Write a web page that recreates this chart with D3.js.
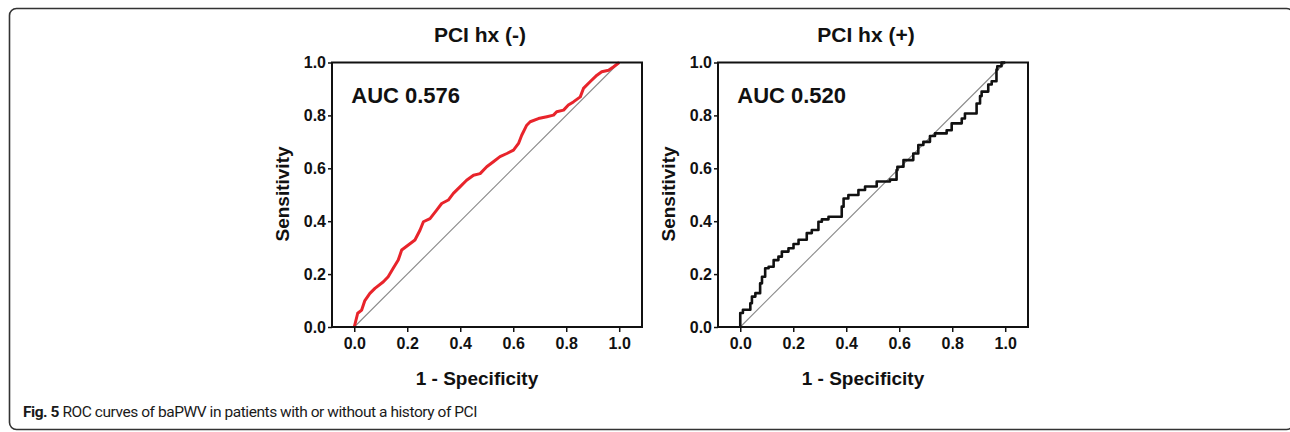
<!DOCTYPE html>
<html>
  <head>
    <meta charset="utf-8" />
    <title>ROC curves</title>
    <script src="https://d3js.org/d3.v7.min.js"></script>
    <style>
      body { margin: 0; background: #fff; }
      svg text { font-family: "Liberation Sans", Arial, sans-serif; }
    </style>
  </head>
  <body>
    <svg id="viz"></svg>

    <script>
        // ROC data: [1 - specificity, sensitivity]
        var rocNeg = [
            [0, 0], [0.013, 0.052], [0.028, 0.064], [0.04, 0.10], [0.059, 0.127],
            [0.078, 0.146], [0.11, 0.171], [0.128, 0.19], [0.147, 0.222], [0.166, 0.253],
            [0.179, 0.291], [0.204, 0.31], [0.229, 0.329], [0.248, 0.366], [0.261, 0.398],
            [0.286, 0.41], [0.311, 0.442], [0.33, 0.467], [0.355, 0.48], [0.374, 0.505],
            [0.399, 0.53], [0.424, 0.555], [0.45, 0.574], [0.475, 0.58], [0.5, 0.606],
            [0.525, 0.625], [0.55, 0.644], [0.576, 0.656], [0.601, 0.669], [0.62, 0.694],
            [0.632, 0.725], [0.651, 0.763], [0.664, 0.776], [0.695, 0.788], [0.727, 0.795],
            [0.752, 0.801], [0.764, 0.814], [0.79, 0.82], [0.808, 0.839], [0.827, 0.851],
            [0.853, 0.87], [0.865, 0.902], [0.89, 0.927], [0.916, 0.952], [0.934, 0.965],
            [0.96, 0.971], [0.979, 0.984], [1, 1]
        ];

        var rocPos = [
            [0, 0], [0, 0.02], [0.01, 0.053], [0.02, 0.065], [0.038, 0.065], [0.044, 0.09],
            [0.057, 0.115], [0.075, 0.128], [0.082, 0.165], [0.094, 0.19], [0.107, 0.222],
            [0.126, 0.228], [0.144, 0.253], [0.157, 0.266], [0.182, 0.285], [0.201, 0.298],
            [0.22, 0.314], [0.251, 0.33], [0.27, 0.355], [0.295, 0.367], [0.308, 0.398],
            [0.333, 0.407], [0.383, 0.417], [0.39, 0.455], [0.408, 0.486], [0.446, 0.499],
            [0.471, 0.518], [0.515, 0.531], [0.565, 0.55], [0.59, 0.557], [0.593, 0.593],
            [0.616, 0.606], [0.653, 0.631], [0.672, 0.656], [0.691, 0.688], [0.716, 0.7],
            [0.735, 0.722], [0.779, 0.732], [0.798, 0.744], [0.836, 0.77], [0.848, 0.788],
            [0.892, 0.807], [0.905, 0.845], [0.911, 0.873], [0.936, 0.89], [0.949, 0.917],
            [0.967, 0.929], [0.97, 0.973], [0.986, 0.986], [1, 1]
        ];

        var tickValues = [0, 0.2, 0.4, 0.6, 0.8, 1.0];
        var titles = ["PCI hx (-)", "PCI hx (+)"];
        var aucLabels = ["AUC 0.576", "AUC 0.520"];

        var width = 1290;
        var height = 432;

        var svg = d3.select("#viz")
            .attr("width", width)
            .attr("height", height);

        // rounded frame around the figure (right side runs off the page)
        svg.append("rect")
            .attr("x", 9.5)
            .attr("y", 8.5)
            .attr("width", 1284)
            .attr("height", 421)
            .attr("rx", 7)
            .attr("fill", "none")
            .attr("stroke", "#333")
            .attr("stroke-width", 1.6);

        var panels = [
            {left: 332, data: rocNeg, color: "#e8242b", lw: 3, curve: d3.curveLinear},
            {left: 718, data: rocPos, color: "#111", lw: 2.6, curve: d3.curveStepBefore}
        ];

        var boxW = 310, plotTop = 62.5, plotBottom = 327;

        panels.forEach(function(p, i) {
            var g = svg.append("g");

            var x = d3.scaleLinear()
                .domain([-0.084, 1.086])
                .range([p.left, p.left + boxW]);
            var y = d3.scaleLinear()
                .domain([0, 1])
                .range([plotBottom, plotTop]);

            // reference diagonal
            g.append("line")
                .attr("x1", x(0)).attr("y1", y(0))
                .attr("x2", x(1)).attr("y2", y(1))
                .attr("stroke", "#8a8a8a")
                .attr("stroke-width", 1.1);

            var line = d3.line()
                .x(function(d) { return x(d[0]); })
                .y(function(d) { return y(d[1]); })
                .curve(p.curve);

            g.append("path")
                .datum(p.data)
                .attr("d", line)
                .attr("fill", "none")
                .attr("stroke", p.color)
                .attr("stroke-width", p.lw)
                .attr("stroke-linejoin", "round");

            // frame of plot area
            g.append("rect")
                .attr("x", p.left)
                .attr("y", plotTop)
                .attr("width", boxW)
                .attr("height", plotBottom - plotTop)
                .attr("fill", "none")
                .attr("stroke", "#111")
                .attr("stroke-width", 2);

            var xAxis = d3.axisBottom(x)
                .tickValues(tickValues)
                .tickSize(5)
                .tickPadding(6)
                .tickFormat(d3.format(".1f"));
            var yAxis = d3.axisLeft(y)
                .tickValues(tickValues)
                .tickSize(4)
                .tickPadding(2)
                .tickFormat(d3.format(".1f"));

            var gx = g.append("g")
                .attr("transform", "translate(0," + plotBottom + ")")
                .call(xAxis);
            var gy = g.append("g")
                .attr("transform", "translate(" + p.left + ",0)")
                .call(yAxis);

            [gx, gy].forEach(function(a) {
                a.select(".domain").remove();
                a.selectAll(".tick line").attr("stroke", "#111").attr("stroke-width", 1.5);
                a.selectAll(".tick text")
                    .attr("fill", "#111")
                    .style("font-family", "'Liberation Sans', Arial, sans-serif")
                    .style("font-weight", "bold")
                    .style("font-size", "16px");
            });

            g.append("text")
                .attr("x", p.left + boxW / 2 - 7)
                .attr("y", 42)
                .attr("text-anchor", "middle")
                .style("font-weight", "bold")
                .style("font-size", "21px")
                .attr("fill", "#111")
                .text(titles[i]);

            g.append("text")
                .attr("x", x(0) - 3)
                .attr("y", 103)
                .style("font-weight", "bold")
                .style("font-size", "22px")
                .attr("fill", "#111")
                .text(aucLabels[i]);

            g.append("text")
                .attr("x", p.left + boxW / 2 - 10)
                .attr("y", 385)
                .attr("text-anchor", "middle")
                .style("font-weight", "bold")
                .style("font-size", "19px")
                .attr("fill", "#111")
                .text("1 - Specificity");

            g.append("text")
                .attr("transform", "translate(" + (p.left - 50) + "," + 194 + ") rotate(-90)")
                .attr("text-anchor", "middle")
                .attr("dy", "0.35em")
                .style("font-weight", "bold")
                .style("font-size", "19px")
                .attr("fill", "#111")
                .text("Sensitivity");
        });

        // caption: tweak letter spacing so it spans the same width as the original
        var cap = svg.append("text")
            .attr("x", 23)
            .attr("y", 417)
            .style("font-family", "Roboto, 'Open Sans', sans-serif")
            .style("font-size", "15.5px")
            .attr("fill", "#1a1a1a");
        cap.append("tspan").style("font-weight", "bold").text("Fig. 5");
        cap.append("tspan").text(" ROC curves of baPWV in patients with or without a history of PCI");

        var natural = cap.node().getComputedTextLength();
        var nChars = cap.text().length;
        cap.style("letter-spacing", ((454 - natural) / nChars) + "px");
    </script>
  </body>
</html>
